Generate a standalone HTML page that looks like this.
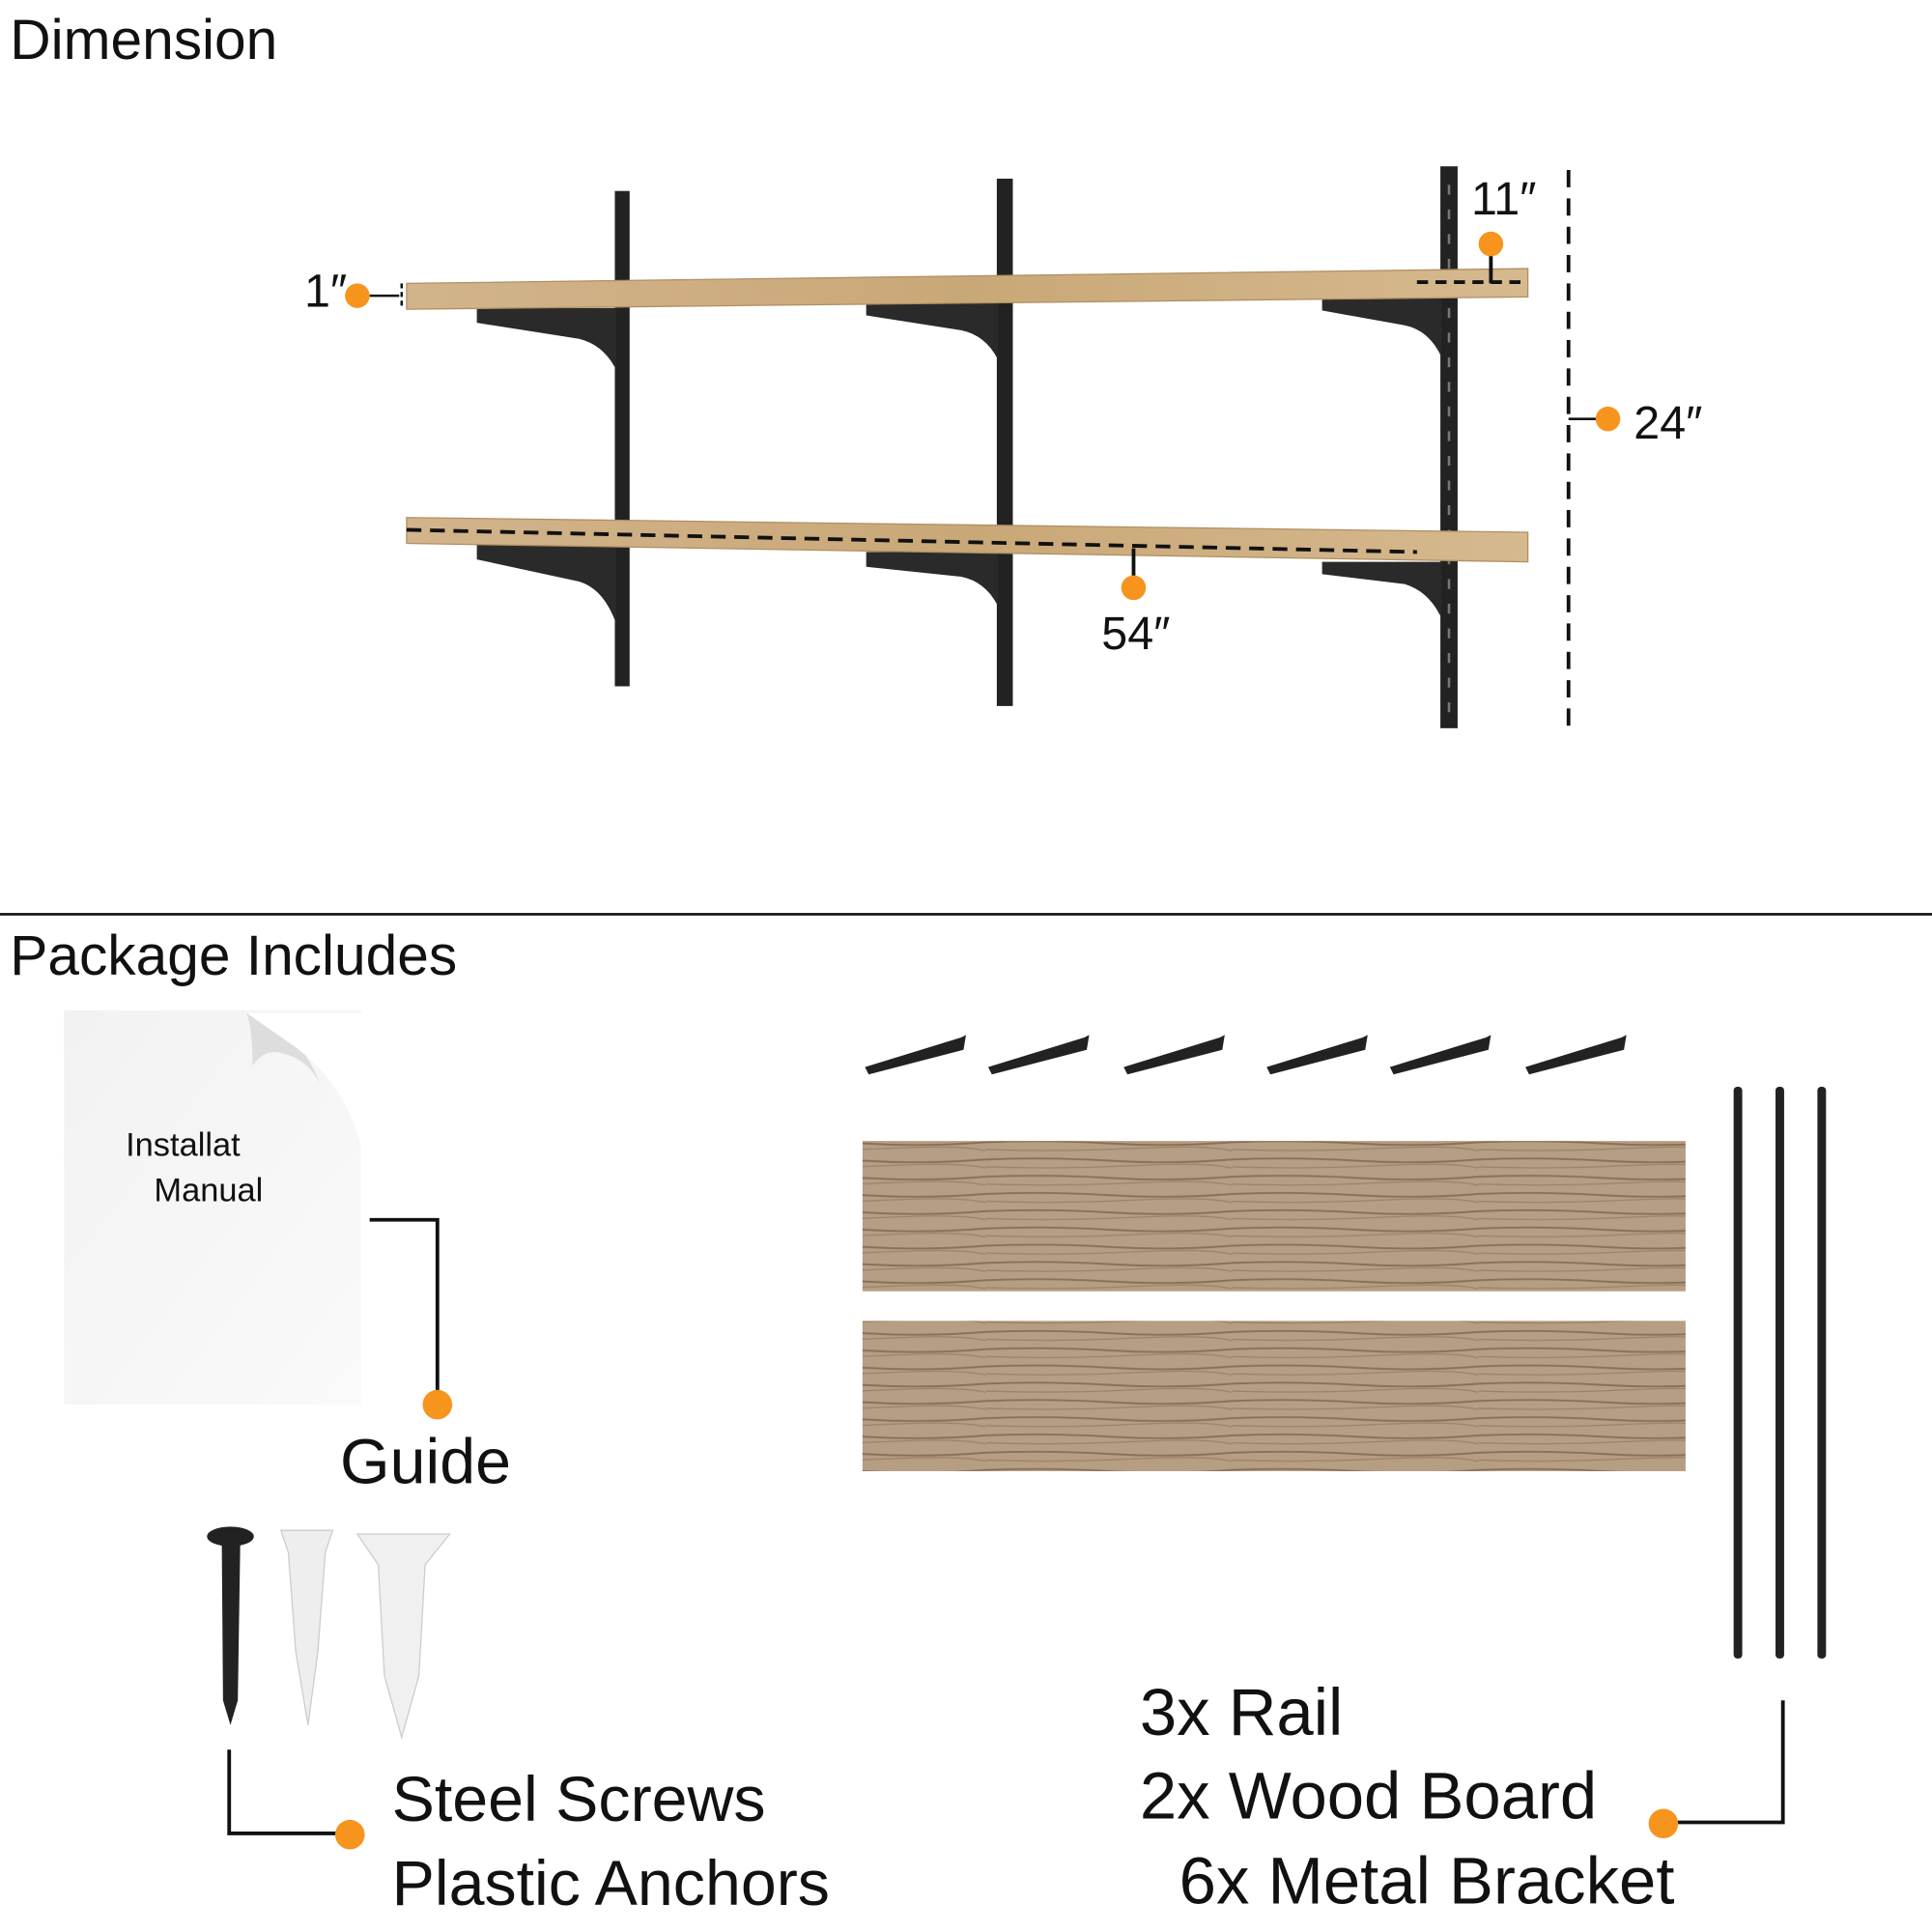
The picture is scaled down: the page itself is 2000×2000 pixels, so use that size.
<!DOCTYPE html>
<html><head><meta charset="utf-8"><style>
html,body{margin:0;padding:0;background:#fff;}
svg{display:block}
text{font-family:"Liberation Sans",sans-serif;fill:#111}
</style></head><body>
<svg width="2000" height="2000" viewBox="0 0 1568 1568" xmlns="http://www.w3.org/2000/svg">
<defs>
<linearGradient id="wood" x1="0" y1="0" x2="1" y2="0">
<stop offset="0" stop-color="#d2b48c"/><stop offset="0.5" stop-color="#c9a877"/><stop offset="1" stop-color="#d6b98f"/>
</linearGradient>
<linearGradient id="paper" x1="0" y1="0" x2="1" y2="1">
<stop offset="0" stop-color="#f2f2f2"/><stop offset="1" stop-color="#fafafa"/>
</linearGradient>
<pattern id="grain" width="200" height="14" patternUnits="userSpaceOnUse">
<rect width="200" height="14" fill="#b59e84"/>
<path d="M0 3 Q50 1 100 4 T200 3" stroke="#8a7058" stroke-width="1.5" fill="none"/>
<path d="M0 9 Q60 11 120 8 T200 10" stroke="#9c8268" stroke-width="1" fill="none"/>
</pattern>
</defs>
<text x="8" y="48" font-size="46">Dimension</text>

<!-- rails -->
<rect x="499" y="155" width="12" height="402" fill="#222"/>
<rect x="809" y="145" width="13" height="428" fill="#222"/>
<rect x="1169" y="135" width="14" height="456" fill="#222"/>
<line x1="1176" y1="150" x2="1176" y2="585" stroke="#777" stroke-width="2" stroke-dasharray="8 12"/>

<!-- brackets top -->
<g fill="#2a2a2a">
<path d="M387 250 L500 250 L500 300 Q490 280 470 275 L387 262 Z"/>
<path d="M703 246 L810 246 L810 292 Q800 272 780 268 L703 256 Z"/>
<path d="M1073 240 L1170 240 L1170 290 Q1160 268 1140 264 L1073 252 Z"/>
<path d="M387 441 L500 441 L500 506 Q490 478 470 472 L387 454 Z"/>
<path d="M703 448 L810 448 L810 492 Q800 472 780 468 L703 460 Z"/>
<path d="M1073 456 L1170 456 L1170 502 Q1160 480 1140 474 L1073 466 Z"/>
</g>
<!-- shelves -->
<polygon points="330,230 1240,218 1240,241 330,251" fill="url(#wood)" stroke="#b08f62"/>
<polygon points="330,420 1240,432 1240,456 330,441" fill="url(#wood)" stroke="#b08f62"/>
<line x1="1150" y1="229" x2="1238" y2="229" stroke="#111" stroke-width="3" stroke-dasharray="9 6"/>
<line x1="330" y1="430" x2="1150" y2="448" stroke="#111" stroke-width="3" stroke-dasharray="12 7"/>

<!-- dimension markers -->
<line x1="1273" y1="138" x2="1273" y2="590" stroke="#111" stroke-width="3" stroke-dasharray="14 9"/>
<line x1="1273" y1="340" x2="1300" y2="340" stroke="#111" stroke-width="2"/>
<circle cx="1305" cy="340" r="10" fill="#f7941d"/>
<text x="1326" y="356" font-size="38">24″</text>
<line x1="1210" y1="200" x2="1210" y2="230" stroke="#111" stroke-width="3"/>
<circle cx="1210" cy="198" r="10" fill="#f7941d"/>
<text x="1194" y="174" font-size="38">11″</text>
<line x1="300" y1="240" x2="324" y2="240" stroke="#111" stroke-width="2"/>
<line x1="326" y1="230" x2="326" y2="251" stroke="#111" stroke-width="2" stroke-dasharray="4 3"/>
<circle cx="290" cy="240" r="10" fill="#f7941d"/>
<text x="247" y="249" font-size="38">1″</text>
<line x1="920" y1="445" x2="920" y2="470" stroke="#111" stroke-width="3"/>
<circle cx="920" cy="477" r="10" fill="#f7941d"/>
<text x="894" y="527" font-size="38">54″</text>

<line x1="0" y1="742" x2="1568" y2="742" stroke="#111" stroke-width="2"/>
<text x="8" y="791" font-size="46">Package Includes</text>

<!-- manual -->
<rect x="52" y="820" width="241" height="320" fill="url(#paper)"/>
<path d="M200 822 Q240 830 260 880 Q250 860 230 855 Q215 850 205 865 Q205 835 200 822 Z" fill="#ddd"/>
<path d="M200 822 L293 822 L293 930 Q280 880 240 850 Z" fill="#fff"/>
<text x="102" y="938" font-size="27">Installat</text>
<text x="125" y="975" font-size="27">Manual</text>
<polyline points="300,990 355,990 355,1132" fill="none" stroke="#111" stroke-width="3"/>
<circle cx="355" cy="1140" r="12" fill="#f7941d"/>
<text x="276" y="1204" font-size="52">Guide</text>

<!-- screws / anchors -->
<ellipse cx="187" cy="1247" rx="19" ry="8" fill="#222"/>
<polygon points="180,1252 195,1252 193,1380 187,1400 181,1380" fill="#222"/>
<polygon points="228,1242 270,1242 264,1260 258,1340 250,1400 240,1340 234,1260" fill="#eee" stroke="#ccc"/>
<polygon points="290,1245 365,1245 345,1270 340,1360 326,1410 312,1360 307,1270" fill="#f0f0f0" stroke="#ccc"/>
<polyline points="186,1420 186,1488 275,1488" fill="none" stroke="#111" stroke-width="3"/>
<circle cx="284" cy="1489" r="12" fill="#f7941d"/>
<text x="318" y="1478" font-size="52">Steel Screws</text>
<text x="318" y="1546" font-size="52">Plastic Anchors</text>

<!-- small brackets -->
<g fill="#222">
<path d="M702 866 L780 842 L784 840 L782 852 L705 872 Z"/>
<path d="M802 866 L880 842 L884 840 L882 852 L805 872 Z"/>
<path d="M912 866 L990 842 L994 840 L992 852 L915 872 Z"/>
<path d="M1028 866 L1106 842 L1110 840 L1108 852 L1031 872 Z"/>
<path d="M1128 866 L1206 842 L1210 840 L1208 852 L1131 872 Z"/>
<path d="M1238 866 L1316 842 L1320 840 L1318 852 L1241 872 Z"/>
</g>
<!-- boards -->
<rect x="700" y="926" width="668" height="122" fill="url(#grain)"/>
<rect x="700" y="1072" width="668" height="122" fill="url(#grain)"/>
<!-- rails -->
<rect x="1407" y="882" width="7" height="464" rx="3" fill="#222"/>
<rect x="1441" y="882" width="7" height="464" rx="3" fill="#222"/>
<rect x="1475" y="882" width="7" height="464" rx="3" fill="#222"/>
<polyline points="1447,1380 1447,1479 1360,1479" fill="none" stroke="#111" stroke-width="3"/>
<circle cx="1350" cy="1480" r="12" fill="#f7941d"/>
<text x="925" y="1408" font-size="54">3x Rail</text>
<text x="925" y="1476" font-size="54">2x Wood Board</text>
<text x="957" y="1545" font-size="54">6x Metal Bracket</text>
</svg>
</body></html>
